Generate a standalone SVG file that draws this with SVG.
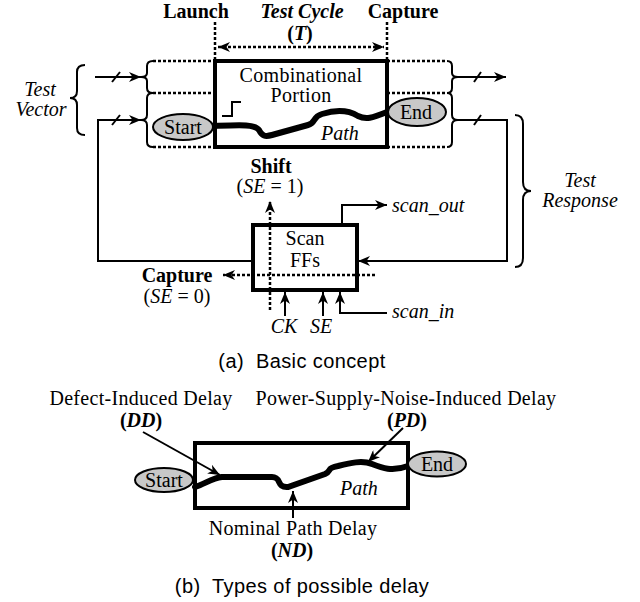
<svg xmlns="http://www.w3.org/2000/svg" width="640" height="602" viewBox="0 0 640 602">
<style>
text{font-family:"Liberation Serif","Times New Roman",serif;font-size:20px;fill:#000}
.c{text-anchor:middle}
.b{font-weight:bold}
.i{font-style:italic}
.w{letter-spacing:0.3px}
.cap{font-family:"Liberation Sans",Arial,sans-serif;font-size:20px;letter-spacing:0.4px}
.thin{fill:none;stroke:#000;stroke-width:2}
.dot{fill:none;stroke:#000;stroke-width:2.5;stroke-dasharray:3 2}
.box{fill:#fff;stroke:#000;stroke-width:4}
.ell{fill:#c8c8c8;stroke:#000;stroke-width:2}
.path{fill:none;stroke:#000;stroke-width:6;stroke-linecap:round}
</style>
<defs>
<marker id="ah" viewBox="0 0 12 10" refX="12" refY="5" markerWidth="12" markerHeight="10" markerUnits="userSpaceOnUse" orient="auto-start-reverse">
<path d="M0,0 L12,5 L0,10 L3.5,5 z" fill="#000"/>
</marker>
</defs>

<!-- (a) nodes -->
<g id="comb-box">
<rect class="box" x="215" y="61" width="172" height="86"/>
<text class="c w" x="301" y="82">Combinational</text>
<text class="c w" x="301" y="102">Portion</text>
<path class="thin" d="M222,116 H232 V102 H241"/>
<path class="path" d="M213,126 C240,125 255,124 259,130 C262,136 265,137 272,135 L308,125 C316,123 312,117 322,114 C335,110 348,110 358,116 C366,120 372,118 387,112"/>
<text class="i" x="321" y="140">Path</text>
</g>
<g id="start-a">
<ellipse class="ell" cx="183" cy="127" rx="30" ry="13"/>
<text class="c" x="183" y="134">Start</text>
</g>
<g id="end-a">
<ellipse class="ell" cx="417" cy="112" rx="29" ry="14"/>
<text class="c" x="416" y="119">End</text>
</g>
<g id="scanffs">
<rect class="box" x="253" y="225" width="104" height="65"/>
<text class="c" x="305" y="245">Scan</text>
<text class="c" x="305" y="267">FFs</text>
</g>

<!-- connectors -->
<g id="connectors">
<path class="dot" d="M215,22 V61"/>
<path class="dot" d="M387,22 V61"/>
<path class="dot" d="M218,47 H384" marker-start="url(#ah)" marker-end="url(#ah)"/>
<path class="dot" d="M153,61 H215 M153,93 H215 M153,147 H215"/>
<path class="thin" d="M153,61 Q147,61 147,66 L147,73 Q147,77 141,77 Q147,77 147,81 L147,88 Q147,93 153,93"/>
<path class="thin" d="M153,93 Q147,93 147,98 L147,115 Q147,120 141,120 Q147,120 147,125 L147,142 Q147,147 153,147"/>
<path class="dot" d="M387,61 H447 M387,93 H447 M387,147 H447"/>
<path class="thin" d="M447,61 Q452,61 452,66 L452,73 Q452,77 458,77 Q452,77 452,81 L452,88 Q452,93 447,93"/>
<path class="thin" d="M447,93 Q452,93 452,98 L452,115 Q452,120 458,120 Q452,120 452,125 L452,142 Q452,147 447,147"/>
<path class="thin" d="M95,77 H141" marker-end="url(#ah)"/>
<path class="thin" d="M112,82 L120,72"/>
<path class="thin" d="M253,261 H98 V120 H141" marker-end="url(#ah)"/>
<path class="thin" d="M112,125 L120,115"/>
<path class="thin" d="M458,77 H506" marker-end="url(#ah)"/>
<path class="thin" d="M474,82 L481,72"/>
<path class="thin" d="M458,120 H507 V261 H358" marker-end="url(#ah)"/>
<path class="thin" d="M474,125 L481,115"/>
<path class="thin" d="M85,65 Q77,65 77,72 L77,91 Q77,98 70,98 Q77,98 77,105 L77,128 Q77,135 85,135"/>
<path class="thin" d="M515,115 Q523,115 523,124 L523,182 Q523,191 531,191 Q523,191 523,200 L523,258 Q523,267 515,267"/>
<path class="thin" d="M342,225 V205 H387" marker-end="url(#ah)"/>
<path class="thin" d="M285,316 V292" marker-end="url(#ah)"/>
<path class="thin" d="M323,316 V292" marker-end="url(#ah)"/>
<path class="thin" d="M387,313 H340 V292" marker-end="url(#ah)"/>
<path class="dot" d="M270,310 V201" marker-end="url(#ah)"/>
<path class="dot" d="M375,275 H223" marker-end="url(#ah)"/>
</g>

<!-- (a) labels -->
<g id="labels-a">
<text class="c b" x="196" y="18">Launch</text>
<text class="c b i" x="302" y="18">Test Cycle</text>
<text class="c b" x="403" y="18">Capture</text>
<text class="c b" x="300" y="40">(<tspan class="i">T</tspan>)</text>
<text class="c i" x="40" y="96">Test</text>
<text class="c i" x="41" y="116">Vector</text>
<text class="c i" x="580" y="187">Test</text>
<text class="c i" x="580" y="207">Response</text>
<text class="c b" x="271" y="173">Shift</text>
<text class="c" x="270" y="193">(<tspan class="i">SE</tspan> = 1)</text>
<text class="c b" x="177" y="282">Capture</text>
<text class="c" x="177" y="303">(<tspan class="i">SE</tspan> = 0)</text>
<text class="i" x="392" y="212">scan_out</text>
<text class="i" x="392" y="318">scan_in</text>
<text class="c i" x="284" y="333">CK</text>
<text class="c i" x="321" y="333">SE</text>
<text class="c cap" x="302" y="368" xml:space="preserve">(a)  Basic concept</text>
</g>

<!-- (b) nodes -->
<g id="path-box-b">
<rect class="box" x="195" y="443" width="213" height="65"/>
<path class="path" d="M195,487 C205,484 212,478 222,477 L272,477 C282,477 276,488 288,487 L325,474 C332,471 326,468 338,466 C350,463 362,460 372,464 C382,468 392,472 408,466"/>
<text class="i" x="340" y="495">Path</text>
</g>
<g id="start-b">
<ellipse class="ell" cx="164" cy="480" rx="29" ry="12"/>
<text class="c" x="164" y="487">Start</text>
</g>
<g id="end-b">
<ellipse class="ell" cx="437" cy="464" rx="29" ry="12.5"/>
<text class="c" x="437" y="471">End</text>
</g>
<g id="connectors-b">
<path class="thin" d="M143,432 L220,475" marker-end="url(#ah)"/>
<path class="thin" d="M403,428 L368,462" marker-end="url(#ah)"/>
<path class="thin" d="M293,518 V491" marker-end="url(#ah)"/>
</g>
<g id="labels-b">
<text class="c w" x="141" y="405">Defect-Induced Delay</text>
<text class="c b" x="141" y="427">(<tspan class="i">DD</tspan>)</text>
<text class="c w" x="406" y="405">Power-Supply-Noise-Induced Delay</text>
<text class="c b" x="407" y="427">(<tspan class="i">PD</tspan>)</text>
<text class="c w" x="293" y="535">Nominal Path Delay</text>
<text class="c b" x="292" y="557">(<tspan class="i">ND</tspan>)</text>
<text class="c cap" x="302" y="593" xml:space="preserve">(b)  Types of possible delay</text>
</g>
</svg>
